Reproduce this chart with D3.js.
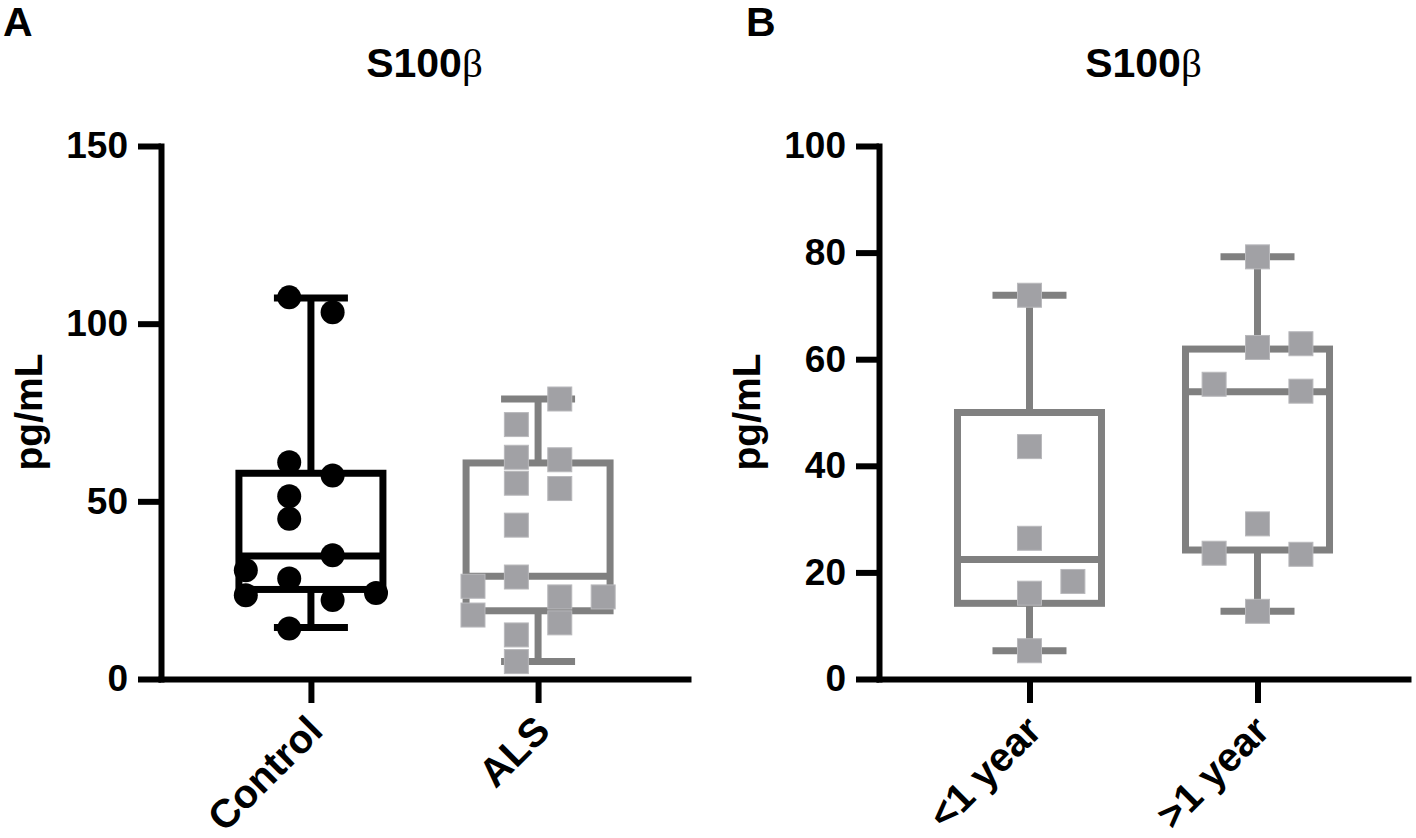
<!DOCTYPE html>
<html>
<head>
<meta charset="utf-8">
<script src="https://cdn.jsdelivr.net/npm/d3@7"></script>
<style>
  body { margin: 0; padding: 0; background: white; }
  text { font-family: "Liberation Sans", Arial, sans-serif; font-weight: bold; }
</style>
</head>
<body>
<div id="chart"></div>
<script>
const width = 1416;
const height = 838;

// panel A
const groupsA = ["Control", "ALS"];
const ticksA = [0, 50, 100, 150];
const controlValues = [107.4, 103.2, 61.0, 57.3, 51.4, 45.1, 34.8, 30.6, 28.3, 23.6, 22.2, 24.2, 14.2];
const controlSlots = [-1, 1, -1, 1, -1, -1, 1, -3, -1, -3, 1, 3, -1];
const alsValues = [78.8, 71.6, 62.4, 61.7, 55.1, 53.6, 43.3, 28.7, 26.1, 23.1, 23.1, 18.0, 15.8, 12.4, 4.9];
const alsSlots = [1, -1, -1, 1, -1, 1, -1, -1, -3, 1, 3, -3, 1, -1, -1];
// min, q1, median, q3, max
const controlBox = [14.5, 25.2, 34.6, 57.9, 107.2];
const alsBox = [4.9, 19.2, 28.9, 60.8, 78.8];

// panel B
const groupsB = ["<1 year", ">1 year"];
const ticksB = [0, 20, 40, 60, 80, 100];
const under1Values = [72.0, 43.6, 26.4, 18.3, 16.1, 5.3];
const under1Slots = [0, 0, 0, 2, 0, 0];
const over1Values = [79.2, 62.2, 62.9, 55.3, 54.0, 29.1, 23.6, 23.4, 12.7];
const over1Slots = [0, 0, 2, -2, 2, 0, -2, 2, 0];
const under1Box = [5.3, 14.2, 22.4, 50.0, 72.0];
const over1Box = [12.7, 24.2, 53.9, 61.9, 79.2];

const black = "#000000";
const gray = "#808080";
const squareFill = "#a1a1a5";

const svg = d3.select("#chart")
  .append("svg")
  .attr("width", width)
  .attr("height", height);

function drawPanel(p) {
  const g = svg.append("g");

  const y = d3.scaleLinear().domain(p.yDomain).range([679, 146]);
  const x = d3.scalePoint().domain(p.groups).range([p.left, p.right]).padding(0.66);
  const slotWidth = 21.7;

  // panel letter and title
  g.append("text")
    .attr("x", p.letterX)
    .attr("y", 36)
    .style("font-size", "41px")
    .text(p.letter);

  const title = g.append("text")
    .attr("x", (p.left + p.right) / 2)
    .attr("y", 77)
    .attr("text-anchor", "middle")
    .style("font-size", "41px")
    .text("S100");
  title.append("tspan")
    .style("font-family", "'Liberation Serif', 'Times New Roman', serif")
    .style("font-weight", "normal")
    .text("β");

  // y axis label
  g.append("text")
    .attr("transform", "translate(" + (p.left - 119) + "," + 412 + ") rotate(-90)")
    .attr("text-anchor", "middle")
    .style("font-size", "39px")
    .text("pg/mL");

  // y axis
  const yAxis = g.append("g")
    .attr("transform", "translate(" + p.left + ",0)")
    .call(d3.axisLeft(y).tickValues(p.ticks).tickSize(23).tickSizeOuter(0).tickPadding(10));
  yAxis.select(".domain").attr("stroke-width", 6).attr("stroke-linecap", "square");
  yAxis.selectAll(".tick line").attr("stroke-width", 6);
  yAxis.selectAll(".tick text")
    .attr("fill", black)
    .style("font-size", "37px")
    .style("font-family", "'Liberation Sans', Arial, sans-serif")
    .style("font-weight", "bold");

  // x axis
  const xAxis = g.append("g")
    .attr("transform", "translate(0,679)")
    .call(d3.axisBottom(x).tickSize(24).tickSizeOuter(0).tickFormat(""));
  xAxis.select(".domain").attr("stroke-width", 6).attr("stroke-linecap", "square");
  xAxis.selectAll(".tick line").attr("stroke-width", 6);

  g.selectAll(".catLabel")
    .data(p.groups)
    .enter()
    .append("text")
    .attr("class", "catLabel")
    .attr("text-anchor", "end")
    .attr("transform", function (d) {
      return "translate(" + (x(d) + 14) + "," + 733 + ") rotate(-45)";
    })
    .style("font-size", "40px")
    .text(function (d) { return d; });

  // boxes and whiskers
  p.boxes.forEach(function (b, i) {
    const cx = x(p.groups[i]);
    const color = p.colors[i];
    const bg = g.append("g")
      .attr("stroke", color)
      .attr("stroke-width", 7)
      .attr("fill", "none");
    // whiskers
    bg.append("line").attr("x1", cx).attr("x2", cx).attr("y1", y(b[4])).attr("y2", y(b[3]));
    bg.append("line").attr("x1", cx).attr("x2", cx).attr("y1", y(b[1])).attr("y2", y(b[0]));
    bg.append("line").attr("x1", cx - 37).attr("x2", cx + 37).attr("y1", y(b[4])).attr("y2", y(b[4]));
    bg.append("line").attr("x1", cx - 37).attr("x2", cx + 37).attr("y1", y(b[0])).attr("y2", y(b[0]));
    // box
    bg.append("rect")
      .attr("x", cx - 72)
      .attr("width", 144)
      .attr("y", y(b[3]))
      .attr("height", y(b[1]) - y(b[3]));
    bg.append("line").attr("x1", cx - 72).attr("x2", cx + 72).attr("y1", y(b[2])).attr("y2", y(b[2]));
  });

  // points
  p.series.forEach(function (s, i) {
    const cx = x(p.groups[i]);
    const pts = s.values.map(function (v, j) { return { v: v, slot: s.slots[j] }; });
    if (s.shape === "circle") {
      g.selectAll(".pt" + i)
        .data(pts)
        .enter()
        .append("circle")
        .attr("cx", function (d) { return cx + d.slot * slotWidth; })
        .attr("cy", function (d) { return y(d.v); })
        .attr("r", 12)
        .attr("fill", black);
    } else {
      g.selectAll(".pt" + i)
        .data(pts)
        .enter()
        .append("rect")
        .attr("x", function (d) { return cx + d.slot * slotWidth - 12; })
        .attr("y", function (d) { return y(d.v) - 12; })
        .attr("width", 24)
        .attr("height", 24)
        .attr("fill", squareFill)
        .attr("stroke", "#b9b9bc")
        .attr("stroke-width", 1);
    }
  });
}

drawPanel({
  letter: "A",
  letterX: 3,
  left: 161,
  right: 688,
  groups: groupsA,
  yDomain: [0, 150],
  ticks: ticksA,
  boxes: [controlBox, alsBox],
  colors: [black, gray],
  series: [
    { values: controlValues, slots: controlSlots, shape: "circle" },
    { values: alsValues, slots: alsSlots, shape: "square" }
  ]
});

drawPanel({
  letter: "B",
  letterX: 746,
  left: 879,
  right: 1408,
  groups: groupsB,
  yDomain: [0, 100],
  ticks: ticksB,
  boxes: [under1Box, over1Box],
  colors: [gray, gray],
  series: [
    { values: under1Values, slots: under1Slots, shape: "square" },
    { values: over1Values, slots: over1Slots, shape: "square" }
  ]
});
</script>
</body>
</html>
